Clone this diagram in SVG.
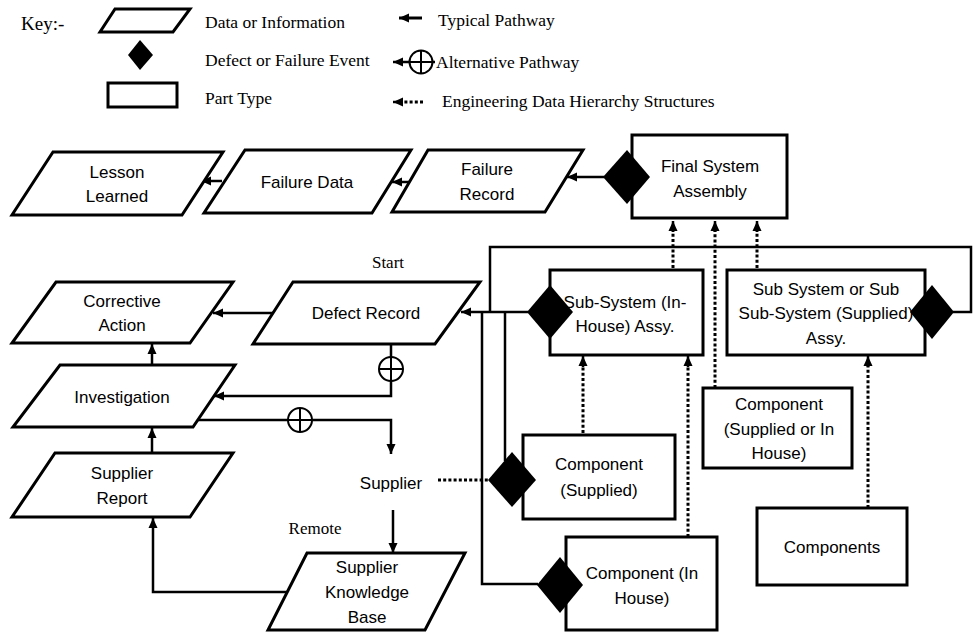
<svg xmlns="http://www.w3.org/2000/svg" width="973" height="632" viewBox="0 0 973 632">
<style>
.n{fill:#fff;stroke:#000;stroke-width:3;stroke-linejoin:miter}
.d{fill:#000;stroke:none}
.c{fill:none;stroke:#000;stroke-width:2.5}
.dot{fill:none;stroke:#000;stroke-width:3;stroke-dasharray:3 2.2}
.alt{fill:#fff;stroke:#000;stroke-width:2}
.t{font-family:"Liberation Sans",Arial,sans-serif;font-size:17px;fill:#000;text-anchor:middle}
.s{font-family:"Liberation Serif","Times New Roman",serif;font-size:17.5px;fill:#000}
</style>
<defs>
<marker id="ah" markerUnits="userSpaceOnUse" markerWidth="10" markerHeight="10" refX="10" refY="5" orient="auto">
<path d="M0,0.5 L10,5 L0,9.5 z" fill="#000"/>
</marker>
</defs>

<g id="key">
<text class="s" x="21" y="30" style="font-size:19px">Key:-</text>
<polygon class="n" points="115,9 190,9 173,32 100,32"/>
<polygon class="d" points="140,40 153,55 140,70 128,55"/>
<rect class="n" x="108" y="83" width="69" height="24"/>
<text class="s" x="205" y="28">Data or Information</text>
<text class="s" x="205" y="66">Defect or Failure Event</text>
<text class="s" x="205" y="104">Part Type</text>
<line class="c" x1="422" y1="18" x2="399" y2="18" style="stroke-width:3" marker-end="url(#ah)"/>
<text class="s" x="438" y="26">Typical Pathway</text>
<line class="c" x1="435" y1="62" x2="393" y2="62" marker-end="url(#ah)"/>
<circle class="alt" cx="421" cy="62" r="11.5"/>
<line class="c" x1="409" y1="62" x2="435" y2="62" style="stroke-width:2"/>
<line class="c" x1="421" y1="50" x2="421" y2="74" style="stroke-width:2"/>
<text class="s" x="436" y="68">Alternative Pathway</text>
<line class="dot" x1="423" y1="102" x2="401" y2="102"/>
<line class="c" x1="402" y1="102" x2="393" y2="102" marker-end="url(#ah)"/>
<text class="s" x="442" y="107">Engineering Data Hierarchy Structures</text>
</g>

<g id="connectors">
<line class="c" x1="222" y1="181" x2="201" y2="181" marker-end="url(#ah)"/>
<line class="c" x1="412" y1="182" x2="392" y2="182" marker-end="url(#ah)"/>
<line class="c" x1="604" y1="177" x2="567" y2="177" marker-end="url(#ah)"/>
<line class="c" x1="274" y1="313" x2="213" y2="313" marker-end="url(#ah)"/>
<line class="c" x1="152" y1="365" x2="152" y2="344" marker-end="url(#ah)"/>
<line class="c" x1="152" y1="453" x2="152" y2="428" marker-end="url(#ah)"/>
<polyline class="c" points="391,344 391,396 214,396" marker-end="url(#ah)"/>
<polyline class="c" points="197,420 391,420 391,454" marker-end="url(#ah)"/>
<line class="c" x1="393" y1="510" x2="393" y2="553" marker-end="url(#ah)"/>
<polyline class="c" points="287,592 153,592 153,518" marker-end="url(#ah)"/>
<line class="c" x1="528" y1="312" x2="461" y2="312" marker-end="url(#ah)"/>
<polyline class="c" points="953,312 971,312 971,247 490,247 490,312"/>
<polyline class="c" points="482,312 482,584 538,584"/>
<line class="c" x1="505" y1="312" x2="505" y2="461"/>
<circle class="alt" cx="391" cy="369" r="12"/>
<line class="c" x1="391" y1="357" x2="391" y2="381" style="stroke-width:2"/>
<line class="c" x1="379" y1="369" x2="403" y2="369" style="stroke-width:2"/>
<circle class="alt" cx="300" cy="420" r="12"/>
<line class="c" x1="288" y1="420" x2="312" y2="420" style="stroke-width:2"/>
<line class="c" x1="300" y1="408" x2="300" y2="432" style="stroke-width:2"/>
<line class="dot" x1="438" y1="480" x2="490" y2="480"/>
<line class="dot" x1="673" y1="268" x2="673" y2="231"/>
<line class="dot" x1="715" y1="388" x2="715" y2="231"/>
<line class="dot" x1="757" y1="268" x2="757" y2="231"/>
<line class="dot" x1="583" y1="433" x2="583" y2="366"/>
<line class="dot" x1="688" y1="537" x2="688" y2="366"/>
<line class="dot" x1="868" y1="508" x2="868" y2="366"/>
<line class="c" x1="673" y1="232" x2="673" y2="221" marker-end="url(#ah)"/>
<line class="c" x1="715" y1="232" x2="715" y2="221" marker-end="url(#ah)"/>
<line class="c" x1="757" y1="232" x2="757" y2="221" marker-end="url(#ah)"/>
<line class="c" x1="583" y1="367" x2="583" y2="356" marker-end="url(#ah)"/>
<line class="c" x1="688" y1="367" x2="688" y2="356" marker-end="url(#ah)"/>
<line class="c" x1="868" y1="367" x2="868" y2="356" marker-end="url(#ah)"/>
</g>

<g id="lesson-learned">
<polygon class="n" points="53,152 223,152 182,215 12,215"/>
<text class="t" x="117" y="178">Lesson</text>
<text class="t" x="117" y="202">Learned</text>
</g>
<g id="failure-data">
<polygon class="n" points="245,150 411,150 372,213 204,213"/>
<text class="t" x="307" y="188">Failure Data</text>
</g>
<g id="failure-record">
<polygon class="n" points="428,150 583,150 545,212 392,212"/>
<text class="t" x="487" y="175">Failure</text>
<text class="t" x="487" y="200">Record</text>
</g>
<g id="final-system-assembly">
<rect class="n" x="632" y="135" width="155" height="83"/>
<polygon class="d" points="627,150 650,177 627,204 603,177"/>
<text class="t" x="710" y="172">Final System</text>
<text class="t" x="710" y="197">Assembly</text>
</g>
<g id="start-label">
<text class="s" x="388" y="268" style="font-size:17px;text-anchor:middle">Start</text>
</g>
<g id="corrective-action">
<polygon class="n" points="56,282 233,282 190,343 12,343"/>
<text class="t" x="122" y="307">Corrective</text>
<text class="t" x="122" y="331">Action</text>
</g>
<g id="defect-record">
<polygon class="n" points="293,282 480,282 435,344 253,344"/>
<text class="t" x="366" y="319">Defect Record</text>
</g>
<g id="investigation">
<polygon class="n" points="60,365 235,365 193,427 13,427"/>
<text class="t" x="122" y="403">Investigation</text>
</g>
<g id="supplier-report">
<polygon class="n" points="55,453 233,453 190,517 12,517"/>
<text class="t" x="122" y="479">Supplier</text>
<text class="t" x="122" y="504">Report</text>
</g>
<g id="supplier">
<text class="t" x="391" y="489">Supplier</text>
</g>
<g id="remote-label">
<text class="s" x="315" y="534" style="font-size:17px;text-anchor:middle">Remote</text>
</g>
<g id="supplier-knowledge-base">
<polygon class="n" points="307,553 465,553 425,630 268,630"/>
<text class="t" x="367" y="573">Supplier</text>
<text class="t" x="367" y="598">Knowledge</text>
<text class="t" x="367" y="623">Base</text>
</g>
<g id="sub-system-in-house">
<rect class="n" x="550" y="270" width="153" height="85"/>
<polygon class="d" points="550,285 573,312 550,339 527,312"/>
<text class="t" x="625" y="308">Sub-System (In-</text>
<text class="t" x="625" y="332">House) Assy.</text>
</g>
<g id="sub-system-supplied">
<rect class="n" x="727" y="270" width="198" height="85"/>
<polygon class="d" points="932,285 954,312 932,339 910,312"/>
<text class="t" x="826" y="295">Sub System or Sub</text>
<text class="t" x="826" y="319">Sub-System (Supplied)</text>
<text class="t" x="826" y="344">Assy.</text>
</g>
<g id="component-supplied-or-in-house">
<rect class="n" x="703" y="388" width="149" height="80"/>
<text class="t" x="779" y="410">Component</text>
<text class="t" x="779" y="435">(Supplied or In</text>
<text class="t" x="779" y="459">House)</text>
</g>
<g id="component-supplied">
<rect class="n" x="523" y="435" width="152" height="84"/>
<polygon class="d" points="512,452 536,480 512,507 488,480"/>
<text class="t" x="599" y="470">Component</text>
<text class="t" x="599" y="496">(Supplied)</text>
</g>
<g id="component-in-house">
<rect class="n" x="566" y="537" width="151" height="93"/>
<polygon class="d" points="560,557 583,585 560,613 537,585"/>
<text class="t" x="642" y="579">Component (In</text>
<text class="t" x="642" y="604">House)</text>
</g>
<g id="components">
<rect class="n" x="757" y="508" width="150" height="77"/>
<text class="t" x="832" y="553">Components</text>
</g>
</svg>
